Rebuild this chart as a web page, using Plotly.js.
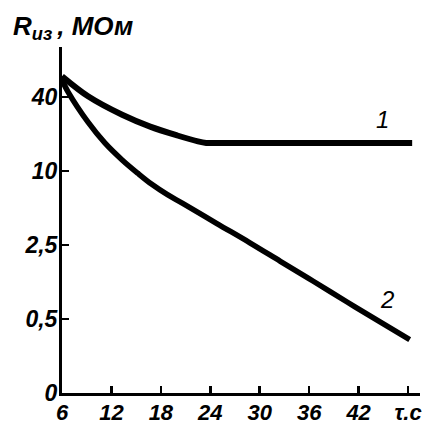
<!DOCTYPE html>
<html>
<head>
<meta charset="utf-8">
<script src="https://cdn.plot.ly/plotly-3.0.1.min.js"></script>
<style>html,body{margin:0;padding:0;background:#fff;}#chart{width:432px;height:426px;}</style>
</head>
<body>
<div id="chart"></div>
<script>
// Time, s
const curve1X = [6, 9.16, 13.3, 16.7, 20.0, 22.5, 23.5, 25, 48.5];
// Position on the stepped R axis (0 -> 0, 1 -> 0.5, 2 -> 2.5, 3 -> 10, 4 -> 40 MOm)
const curve1Y = [4.28, 4.01, 3.76, 3.60, 3.48, 3.40, 3.38, 3.38, 3.38];
const curve2X = [6, 6.73, 9.16, 11.2, 13.3, 15.2, 16.9, 18.8, 20.7, 24.8, 28.8, 32.5, 36.5, 40.6, 44.6, 48.2];
const curve2Y = [4.23, 4.07, 3.66, 3.38, 3.15, 2.97, 2.82, 2.68, 2.56, 2.29, 2.03, 1.78, 1.51, 1.23, 0.96, 0.72];
const xTickVals = [6, 12, 18, 24, 30, 36, 42, 48];
const xTickText = ['6', '12', '18', '24', '30', '36', '42', 'τ.с'];
const yTickVals = [0, 1, 2, 3, 4];
const yTickText = ['0', '0,5', '2,5', '10', '40'];
const curveLabels = ['1', '2'];
const curveLabelX = [44.9, 45.4];
const curveLabelY = [3.69, 1.26];

const fontFam = 'Liberation Sans, Arial, sans-serif';
const yTickFont = {family: fontFam, size: 23, color: '#000', weight: 'bold', style: 'italic'};
const xTickFont = {family: fontFam, size: 22, color: '#000', weight: 'bold', style: 'italic'};

const traces = [
  {x: curve1X, y: curve1Y, mode: 'lines', line: {color: '#000', width: 6, shape: 'spline', smoothing: 0.9}, hoverinfo: 'skip'},
  {x: curve2X, y: curve2Y, mode: 'lines', line: {color: '#000', width: 5.5, shape: 'spline', smoothing: 1}, hoverinfo: 'skip'}
];

const annotations = curveLabels.map((t, i) => ({
  x: curveLabelX[i], y: curveLabelY[i], xref: 'x', yref: 'y', text: t, showarrow: false,
  font: {family: fontFam, size: 24, color: '#000', style: 'italic'}
}));
annotations.push({
  x: -0.142, y: 1.055, xref: 'paper', yref: 'paper', xanchor: 'left', yanchor: 'middle',
  text: 'R<sub>из </sub>, МОм', showarrow: false,
  font: {family: fontFam, size: 26, color: '#000', style: 'italic', weight: 'bold'}
});

const layout = {
  width: 432, height: 426,
  margin: {l: 62, r: 12, t: 47, b: 33},
  paper_bgcolor: '#fff', plot_bgcolor: '#fff',
  showlegend: false,
  xaxis: {
    range: [6, 49.45], showgrid: false, zeroline: false,
    showline: true, linecolor: '#000', linewidth: 3,
    ticks: 'inside', ticklen: 7, tickwidth: 2.5, tickcolor: '#000',
    tickmode: 'array', tickvals: xTickVals, ticktext: xTickText,
    tickfont: xTickFont, ticklabelstandoff: -2, fixedrange: true
  },
  yaxis: {
    range: [0, 4.676], showgrid: false, zeroline: false,
    showline: true, linecolor: '#000', linewidth: 3,
    ticks: 'inside', ticklen: 7, tickwidth: 2.5, tickcolor: '#000',
    tickmode: 'array', tickvals: yTickVals, ticktext: yTickText,
    tickfont: yTickFont, ticklabelstandoff: -3, fixedrange: true
  },
  annotations: annotations
};

Plotly.newPlot('chart', traces, layout, {staticPlot: true, displayModeBar: false});
</script>
</body>
</html>
